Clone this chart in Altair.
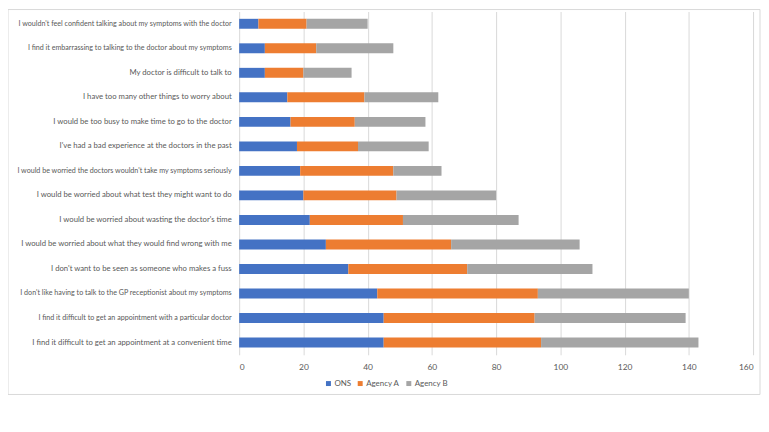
import altair as alt
import pandas as pd

categories = [
    "I wouldn't feel confident talking about my symptoms with the doctor",
    "I find it embarrassing to talking to the doctor about my symptoms",
    "My doctor is difficult to talk to ",
    "I have too many other things to worry about",
    "I would be too busy to make time to go to the doctor",
    "I've had a bad experience at the doctors in the past",
    "I would be worried the doctors wouldn't take my symptoms seriously",
    "I would be worried about what test they might want to do",
    "I would be worried about wasting the doctor's time",
    "I would be worried about what they would find wrong with me",
    "I don't want to be seen as someone who makes a fuss",
    "I don't like having to talk to the GP receptionist about my symptoms",
    "I find it difficult to get an appointment with a particular doctor",
    "I find it difficult to get an appointment at a convenient time",
]
ons = [6, 8, 8, 15, 16, 18, 19, 20, 22, 27, 34, 43, 45, 45]
agency_a = [15, 16, 12, 24, 20, 19, 29, 29, 29, 39, 37, 50, 47, 49]
agency_b = [19, 24, 15, 23, 22, 22, 15, 31, 36, 40, 39, 47, 47, 49]
series = ["ONS", "Agency A", "Agency B"]
colors = ["#4472C4", "#ED7D31", "#A5A5A5"]
x_ticks = [0, 20, 40, 60, 80, 100, 120, 140, 160]

rows = []
for i, c in enumerate(categories):
    for k, (s, vals) in enumerate(zip(series, [ons, agency_a, agency_b])):
        rows.append({"cat": c, "series": s, "value": vals[i], "ord": k})
df = pd.DataFrame(rows)

FONT = "Lato"
GREY = "#595959"

bars = alt.Chart(df).mark_bar(size=10).encode(
    y=alt.Y("cat:N", sort=categories, title=None,
            axis=alt.Axis(ticks=False, domain=False, labelPadding=8,
                          labelFont=FONT,
                          labelFontSize={"condition": {"test": "length(datum.label) > 64", "value": 7.2},
                                         "value": 7.8},
                          labelColor=GREY, labelLimit=400)),
    x=alt.X("value:Q", stack="zero", title=None,
            scale=alt.Scale(domain=[0, 160], nice=False),
            axis=alt.Axis(values=x_ticks, ticks=False, domain=False,
                          grid=True, gridColor="#d9d9d9", labelPadding=8,
                          labelFont=FONT, labelFontSize=8.5, labelColor=GREY)),
    color=alt.Color("series:N", sort=series,
                    scale=alt.Scale(domain=series, range=colors),
                    legend=alt.Legend(title=None, orient="none", direction="horizontal",
                                      legendX=86, legendY=371,
                                      symbolType="square", symbolSize=25,
                                      labelFont=FONT, labelFontSize=8, labelColor=GREY,
                                      columnPadding=5, labelOffset=2,
                                      symbolStrokeWidth=0)),
    order=alt.Order("ord:Q"),
)

border = alt.Chart(pd.DataFrame({"a": [0]})).mark_rect(
    fill=None, stroke="#d9d9d9", strokeWidth=1, clip=False
).encode(
    x=alt.value(-233), x2=alt.value(525), y=alt.value(-2), y2=alt.value(386)
)

chart = alt.layer(border, bars).properties(
    width=518, height=346,
    padding={"left": 233, "top": 2, "right": 8, "bottom": 40},
    autosize=alt.AutoSizeParams(type="none"),
).configure_view(stroke=None)

chart.save("out.html", embed_options={"renderer": "svg", "actions": False})
